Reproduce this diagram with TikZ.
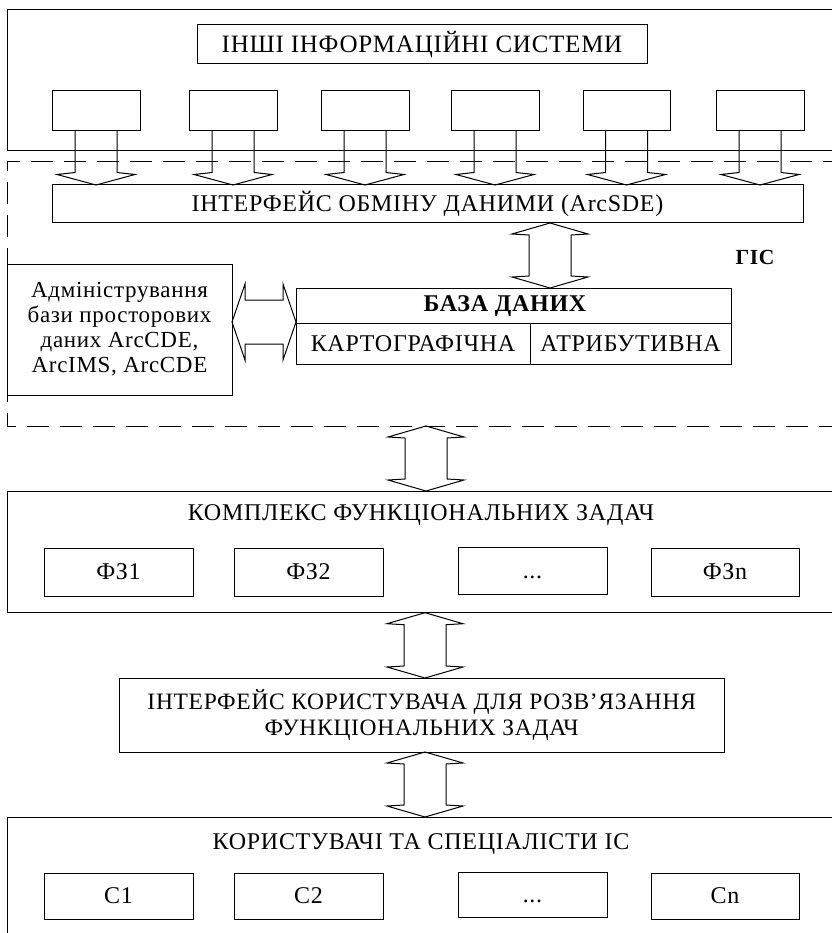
\documentclass[tikz,border=0pt]{standalone}
\usepackage{fontspec}
\setmainfont{Liberation Serif}[LetterSpace=3]
\usetikzlibrary{calc}
\newcommand\fsA{\fontsize{24}{25}\selectfont}
\newcommand\fsB{\fontsize{23.5}{26}\selectfont}
\newcommand\fsC{\fontsize{21.5}{22}\selectfont}
\newcommand\fsT{\fontsize{25}{26}\selectfont}
\tikzset{
  box/.style={draw, line width=1pt, inner sep=0pt, outer sep=0pt, align=center, font=\fsA},
  blk/.style={draw, line width=1pt, line join=miter},
  gisline/.style={line width=1pt, dash pattern=on 22pt off 11pt},
}
% [opts] name x1 y1 x2 y2 text
\newcommand\cbox[7][]{\node[box,minimum width={#5pt-#3pt},minimum height={#6pt-#4pt},#1] (#2) at ({(#3+#5)/2},{(#4+#6)/2}) {#7};}
% vertical double block arrow: x, top anchor, bottom anchor
\newcommand\vdarrow[3]{%
  \draw[blk] let \p1=(#2), \p2=(#3) in
  (#1pt,\y1) -- (#1pt+38pt,\y1-11pt) -- (#1pt+21pt,\y1-12pt) -- (#1pt+21pt,\y2+12pt)
  -- (#1pt+38pt,\y2+11pt) -- (#1pt,\y2) -- (#1pt-38pt,\y2+11pt) -- (#1pt-21pt,\y2+12pt)
  -- (#1pt-21pt,\y1-12pt) -- (#1pt-38pt,\y1-11pt) -- cycle;}
% horizontal double block arrow: y, left anchor, right anchor
\newcommand\hdarrow[3]{%
  \draw[blk] let \p1=(#2), \p2=(#3) in
  (\x1,-#1pt) -- (\x1+13pt,-#1pt+38pt) -- (\x1+13pt,-#1pt+22pt) -- (\x2-13pt,-#1pt+22pt)
  -- (\x2-13pt,-#1pt+38pt) -- (\x2,-#1pt) -- (\x2-13pt,-#1pt-38pt) -- (\x2-13pt,-#1pt-22pt)
  -- (\x1+13pt,-#1pt-22pt) -- (\x1+13pt,-#1pt-38pt) -- cycle;}
% open down arrow from a source box to a target box
\newcommand\downarr[2]{%
  \draw[blk] let \p1=(#1.south), \p2=(#2.north) in
  (\x1-21pt,\y1) -- (\x1-21pt,\y2+12.5pt) -- (\x1-39pt,\y2+10.5pt) -- (\x1,\y2)
  -- (\x1+39pt,\y2+10.5pt) -- (\x1+21pt,\y2+12.5pt) -- (\x1+21pt,\y1);}
\newcommand\dotsph{...\vphantom{ФЗn}}
\begin{document}
\begin{tikzpicture}[x=1pt,y=-1pt]
\useasboundingbox (0,0) rectangle (831,933);
% other information systems
\cbox{top}{7}{10}{840}{151}{}
\cbox[font=\fsT]{title}{197}{25}{647}{64}{ІНШІ ІНФОРМАЦІЙНІ СИСТЕМИ}
\cbox{s1}{52}{91}{140}{131}{}
\cbox{s2}{189}{91}{277}{131}{}
\cbox{s3}{321}{91}{409}{131}{}
\cbox{s4}{451}{91}{539}{131}{}
\cbox{s5}{583}{91}{670}{131}{}
\cbox{s6}{716}{91}{804}{131}{}
% GIS
\cbox[draw=none]{gis}{7}{162}{845}{426}{}
\draw[gisline] (gis.north east) -- (gis.north west) -- (gis.south west) -- (gis.south east);
\cbox{iface}{52}{185}{803}{223}{ІНТЕРФЕЙС ОБМІНУ ДАНИМИ (ArcSDE)}
\node[font=\bfseries\fsC, inner sep=0pt] (gislbl) at (755,257) {ГІС};
\cbox[font=\fontsize{23}{25}\selectfont]{admin}{7}{264}{232}{395}{Адміністрування\\бази просторових\\даних ArcCDE,\\ArcIMS, ArcCDE}
\cbox{db}{296}{288}{731}{364}{}
\draw[line width=1pt] (296,323.5) -- (731,323.5);
\node[font=\bfseries\fsA, inner sep=0pt] (dbt) at (505,306) {БАЗА ДАНИХ};
\cbox[draw=none]{dbc}{296}{323.5}{530}{364}{КАРТОГРАФІЧНА}
\cbox[draw=none]{dba}{530}{323.5}{731}{364}{АТРИБУТИВНА}
\draw[line width=1pt] (dbc.north east) -- (dbc.south east);
% functional tasks
\cbox{complex}{7}{491}{840}{612.7}{}
\node[font=\fsA, inner sep=0pt] (ctitle) at (421,515) {КОМПЛЕКС ФУНКЦІОНАЛЬНИХ ЗАДАЧ};
\cbox{fz1}{44}{548}{193}{596}{ФЗ1}
\cbox{fz2}{234}{548}{383}{596}{ФЗ2}
\cbox{fzd}{458}{547}{607}{594}{\dotsph}
\cbox{fzn}{651}{548}{799}{596}{ФЗn}
% user interface
\cbox[font=\fsB]{ui}{119.5}{678}{724}{752}{ІНТЕРФЕЙС КОРИСТУВАЧА ДЛЯ РОЗВ’ЯЗАННЯ\\ФУНКЦІОНАЛЬНИХ ЗАДАЧ}
% users
\cbox{users}{7}{817}{840}{950}{}
\node[font=\fsA, inner sep=0pt] (utitle) at (421,844) {КОРИСТУВАЧІ ТА СПЕЦІАЛІСТИ ІС};
\cbox{c1}{44}{873}{193}{919}{С1}
\cbox{c2}{234}{873}{383}{919}{С2}
\cbox{cd}{458}{872}{607}{917}{\dotsph}
\cbox{cn}{651}{873}{799}{919}{Сn}
% arrows
\foreach \s in {s1,s2,s3,s4,s5,s6}{\downarr{\s}{iface}}
\vdarrow{550}{iface.south}{db.north}
\hdarrow{322}{admin.east}{db.west}
\vdarrow{426}{gis.south}{complex.north}
\vdarrow{425}{complex.south}{ui.north}
\vdarrow{425}{ui.south}{users.north}
\end{tikzpicture}
\end{document}
